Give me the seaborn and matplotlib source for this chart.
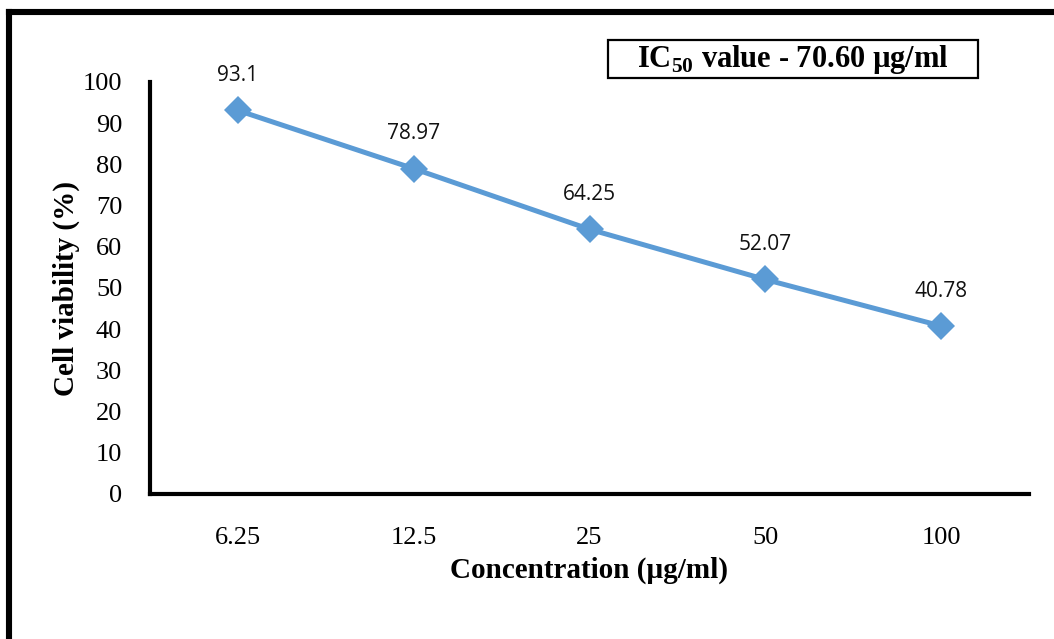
import matplotlib
matplotlib.use("Agg")
import matplotlib.pyplot as plt
import seaborn as sns
import pandas as pd
from matplotlib.lines import Line2D
from matplotlib.patches import Rectangle

# Data
concentrations = ["6.25", "12.5", "25", "50", "100"]
viability = [93.1, 78.97, 64.25, 52.07, 40.78]
y_ticks = [0, 10, 20, 30, 40, 50, 60, 70, 80, 90, 100]
ic50_text = r"IC$_\mathbf{50}$ value - 70.60 µg/ml"

df = pd.DataFrame({"conc": concentrations, "viab": viability})

sns.set_theme(style="white")
plt.rcParams["font.family"] = ["Liberation Serif", "DejaVu Serif"]
plt.rcParams["mathtext.fontset"] = "custom"
plt.rcParams["mathtext.bf"] = "Liberation Serif:bold"
plt.rcParams["mathtext.rm"] = "Liberation Serif"
plt.rcParams["text.color"] = "black"
plt.rcParams["axes.labelcolor"] = "black"
plt.rcParams["xtick.color"] = "black"
plt.rcParams["ytick.color"] = "black"

W, H = 1054, 639
fig = plt.figure(figsize=(W / 100, H / 100), dpi=100)
ax = fig.add_axes([150 / W, 1 - 494 / H, 879 / W, 412 / H])

line_color = "#5B9BD5"
sns.lineplot(data=df, x="conc", y="viab", ax=ax, sort=False, color=line_color,
             linewidth=3.6, marker="D", markersize=14, markeredgewidth=0)

ax.set_xlim(-0.5, len(concentrations) - 0.5)
ax.set_ylim(0, 100)
ax.set_yticks(y_ticks)
ax.set_yticklabels([str(t) for t in y_ticks], fontsize=19)
ax.set_xticks(range(len(concentrations)))
ax.set_xticklabels(concentrations, fontsize=19)
ax.tick_params(axis="both", length=0)
ax.tick_params(axis="y", pad=20)
ax.tick_params(axis="x", pad=24)

for side in ["top", "right"]:
    ax.spines[side].set_visible(False)
for side in ["left", "bottom"]:
    ax.spines[side].set_linewidth(3)
    ax.spines[side].set_color("black")

ax.set_xlabel("Concentration (µg/ml)", fontsize=21, fontweight="bold", labelpad=5)
ax.set_ylabel("Cell viability (%)", fontsize=21, fontweight="bold", labelpad=2)

# Value labels above each point
for i, v in enumerate(viability):
    ax.annotate(f"{v:g}", xy=(i, v), xytext=(0, 25), textcoords="offset points",
                ha="center", va="center", fontsize=15, family="Open Sans", color="#111111")

# IC50 box
fig.add_artist(Rectangle((608 / W, 1 - 78 / H), 370 / W, 38 / H, transform=fig.transFigure,
                         facecolor="white", edgecolor="black", linewidth=1.6))
fig.text(793 / W, 1 - 59 / H, ic50_text, ha="center", va="center",
         fontsize=22, fontweight="bold")

# Outer frame (left and top edges)
fig.add_artist(Line2D([9 / W, 9 / W], [0, 1 - 12 / H], transform=fig.transFigure,
                      color="black", linewidth=4.4, solid_capstyle="projecting"))
fig.add_artist(Line2D([9 / W, 1], [1 - 12 / H, 1 - 12 / H], transform=fig.transFigure,
                      color="black", linewidth=4.4, solid_capstyle="projecting"))

fig.savefig("out.png", dpi=100)
